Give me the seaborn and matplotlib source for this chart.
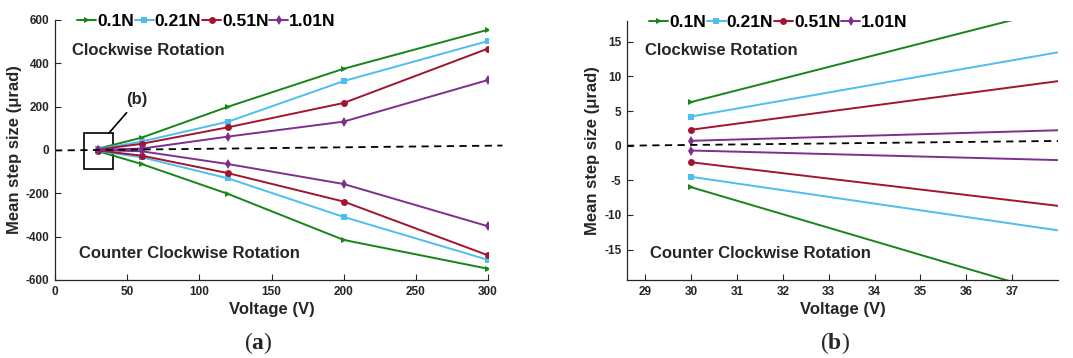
import numpy as np
import pandas as pd
import matplotlib
matplotlib.use("Agg")
import matplotlib.pyplot as plt
import seaborn as sns
from matplotlib.patches import Rectangle

# ---- data ----
voltage = [30, 60, 120, 200, 300]
series_names = ["0.1N", "0.21N", "0.51N", "1.01N"]
cw_01 = [6.3, 57, 200, 375, 555]
cw_021 = [4.2, 39, 131, 318, 503]
cw_051 = [2.3, 28.6, 105, 217, 468]
cw_101 = [0.7, 6.4, 62, 131, 323]
ccw_01 = [-6.0, -64.6, -203, -415, -548]
ccw_021 = [-4.5, -33.5, -131, -309, -507]
ccw_051 = [-2.4, -26, -107, -238, -486]
ccw_101 = [-0.7, -5.9, -65, -157, -352]
ref_line_x = [0, 310]
ref_line_y = [-2.1, 20.5]
ref_line_xb = [28.6, 38]
ref_line_yb = [0.0, 0.68]

colors = {"0.1N": "#178517", "0.21N": "#4DBEEE", "0.51N": "#A2142F", "1.01N": "#7E2F8E"}
markers = {"0.1N": ">", "0.21N": "s", "0.51N": "o", "1.01N": "d"}

rows = []
for name, cw, ccw in zip(series_names, [cw_01, cw_021, cw_051, cw_101],
                         [ccw_01, ccw_021, ccw_051, ccw_101]):
    for v, a, b in zip(voltage, cw, ccw):
        rows.append({"Voltage": v, "Step": a, "Force": name, "Dir": "cw"})
        rows.append({"Voltage": v, "Step": b, "Force": name, "Dir": "ccw"})
df = pd.DataFrame(rows)

sns.set_theme(style="white")
plt.rcParams["font.family"] = ["Liberation Sans", "DejaVu Sans"]
plt.rcParams["font.weight"] = "bold"
plt.rcParams["axes.unicode_minus"] = False
plt.rcParams["mathtext.fontset"] = "custom"
plt.rcParams["mathtext.bf"] = "Liberation Serif:bold"
plt.rcParams["mathtext.rm"] = "Liberation Serif"

fig = plt.figure(figsize=(10.73, 3.58), dpi=100)
axA = fig.add_axes([55/1073, 78/358, 433/1073, 260/358])
axB = fig.add_axes([627/1073, 78/358, 431/1073, 259/358])

tick_col = "#262626"

def draw(ax, legend):
    for d in ["cw", "ccw"]:
        sub = df[df["Dir"] == d]
        sns.lineplot(data=sub, x="Voltage", y="Step", hue="Force", style="Force",
                     palette=colors, markers=markers, dashes=False,
                     hue_order=series_names, style_order=series_names,
                     markersize=5, markeredgewidth=0, linewidth=1.4,
                     legend=(legend and d == "cw"), ax=ax, estimator=None)
    for sp in ["top", "right"]:
        ax.spines[sp].set_visible(False)
    for sp in ["left", "bottom"]:
        ax.spines[sp].set_color(tick_col)
        ax.spines[sp].set_linewidth(0.9)
    ax.tick_params(direction="in", length=4, width=0.8, colors=tick_col,
                   labelsize=8.5, pad=4, left=True, bottom=True)
    for lab in ax.get_xticklabels() + ax.get_yticklabels():
        lab.set_fontweight("bold")
    ax.set_xlabel("Voltage (V)", fontsize=12, fontweight="bold", color="#262626", labelpad=3)
    ax.set_ylabel("Mean step size (μrad)", fontsize=12, fontweight="bold", color="#262626", labelpad=3)
    leg = ax.legend(loc="upper left", ncol=4, frameon=False, handlelength=1.1,
                    handletextpad=0.05, columnspacing=0.05, borderaxespad=0.0,
                    bbox_to_anchor=(0.035, 1.05),
                    prop={"weight": "bold", "size": 12.5})
    for t in leg.get_texts():
        t.set_color("black")

draw(axA, True)
axA.plot(ref_line_x, ref_line_y, color="black", linestyle=(0, (4, 3)), lw=1.3, clip_on=False)
axA.set_xlim(0, 300)
axA.set_ylim(-600, 600)
axA.set_xticks([0, 50, 100, 150, 200, 250, 300])
axA.set_yticks([-600, -400, -200, 0, 200, 400, 600])
axA.text(12, 457, "Clockwise Rotation", fontsize=12, fontweight="bold", va="center")
axA.text(16.5, -477, "Counter Clockwise Rotation", fontsize=12, fontweight="bold", va="center")
axA.add_patch(Rectangle((20.3, -86), 20.1, 166, fill=False, edgecolor="black", lw=1.2))
axA.plot([37.6, 49.6], [80, 172], color="black", lw=1.2)
axA.text(57, 234, "(b)", fontsize=12, fontweight="bold", ha="center", va="center")

draw(axB, True)
axB.plot(ref_line_xb, ref_line_yb, color="black", linestyle=(0, (4, 3)), lw=1.3)
axB.set_xlim(28.6, 38)
axB.set_ylim(-19.4, 18)
axB.set_xticks(list(range(29, 38)))
axB.set_yticks([-15, -10, -5, 0, 5, 10, 15])
axB.text(29.0, 13.8, "Clockwise Rotation", fontsize=12, fontweight="bold", va="center")
axB.text(29.1, -15.6, "Counter Clockwise Rotation", fontsize=12, fontweight="bold", va="center")

fig.text(258/1073, 1 - 343/358, r"($\mathbf{a}$)", fontsize=17, family="Liberation Serif",
         fontweight="normal", ha="center", va="center")
fig.text(835/1073, 1 - 343/358, r"($\mathbf{b}$)", fontsize=17, family="Liberation Serif",
         fontweight="normal", ha="center", va="center")

fig.savefig("out.png", dpi=100)
